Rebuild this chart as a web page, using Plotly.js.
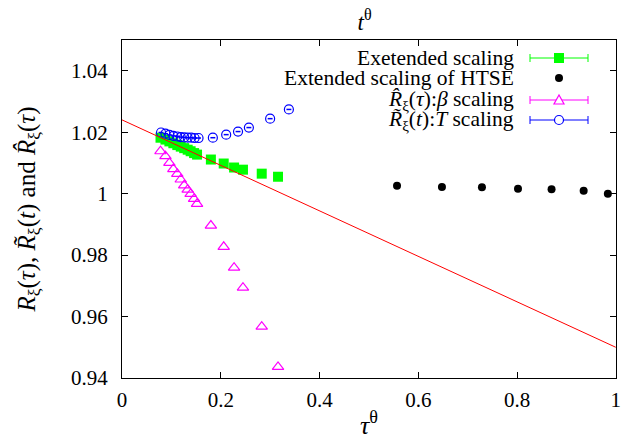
<!DOCTYPE html>
<html>
<head>
<meta charset="utf-8">
<script src="https://cdn.plot.ly/plotly-3.0.1.min.js"></script>
<style>html,body{margin:0;padding:0;background:#fff;}#chart{width:621px;height:443px;}</style>
</head>
<body>
<div id="chart"></div>
<script>
// Exetended scaling (green squares)
const greenX = [0.078,0.088,0.096,0.104,0.112,0.119,0.126,0.133,0.139,0.146,0.152,0.180,0.206,0.227,0.245,0.283,0.316];
const greenY = [1.0182,1.0176,1.0170,1.0164,1.0158,1.0153,1.0148,1.0143,1.0138,1.0132,1.0127,1.0111,1.0098,1.0085,1.0078,1.0065,1.0055];
// Extended scaling of HTSE (black dots)
const htseX = [0.557,0.648,0.729,0.802,0.870,0.935,0.984];
const htseY = [1.0026,1.0022,1.0021,1.0016,1.0014,1.0009,1.0000];
// R-hat beta scaling (magenta triangles)
const betaX = [0.078,0.088,0.096,0.104,0.112,0.119,0.126,0.133,0.139,0.146,0.152,0.180,0.206,0.227,0.245,0.283,0.316];
const betaY = [1.0138,1.0122,1.0100,1.0080,1.0064,1.0046,1.0027,1.0013,0.9999,0.9983,0.9967,0.9896,0.9827,0.9759,0.9694,0.9567,0.9436];
// R-tilde T scaling (blue circles)
const tempX = [0.079,0.088,0.096,0.104,0.112,0.119,0.126,0.133,0.140,0.147,0.155,0.184,0.211,0.235,0.257,0.300,0.338];
const tempY = [1.0199,1.0195,1.0191,1.0188,1.0186,1.0184,1.0183,1.0182,1.0182,1.0181,1.0181,1.0182,1.0192,1.0202,1.0215,1.0244,1.0274];
// linear fit (red)
const fitX = [0, 1];
const fitY = [1.024, 0.950];

const xTicks = [0, 0.2, 0.4, 0.6, 0.8, 1];
const xTickText = ['0', '0.2', '0.4', '0.6', '0.8', '1'];
const yTicks = [0.94, 0.96, 0.98, 1.00, 1.02, 1.04];
const yTickText = ['0.94', '0.96', '0.98', '1', '1.02', '1.04'];

const legendNames = [
  'Exetended scaling',
  'Extended scaling of HTSE',
  '<i>R̂</i><sub>ξ</sub>(<i>τ</i>):<i>β</i> scaling',
  '<i>R̃</i><sub>ξ</sub>(<i>t</i>):<i>T</i> scaling'
];

const GREEN = '#00ff00', MAG = '#ff00ff', BLUE = '#0000ff', RED = '#ff0000';
const FONT = "'Liberation Serif', 'Times New Roman', serif";

const traces = [
  {x: greenX, y: greenY, mode: 'markers', type: 'scatter', name: legendNames[0],
   marker: {symbol: 'square', size: 10, color: GREEN}},
  {x: htseX, y: htseY, mode: 'markers', type: 'scatter', name: legendNames[1],
   marker: {symbol: 'circle', size: 8, color: '#000'}},
  {x: betaX, y: betaY, mode: 'markers', type: 'scatter', name: legendNames[2],
   marker: {symbol: 'triangle-up-open', size: 10, color: MAG, line: {width: 1.2}}},
  {x: tempX, y: tempY, mode: 'markers', type: 'scatter', name: legendNames[3],
   marker: {symbol: 'circle-open', size: 9, color: BLUE, line: {width: 1.2}},
   error_x: {type: 'constant', value: 0.005, width: 0, thickness: 1.5, color: BLUE}},
  {x: fitX, y: fitY, mode: 'lines', type: 'scatter', name: 'fit',
   line: {color: RED, width: 1}}
];

// custom gnuplot-style legend (text right, sample left->right)
const rowsPx = [58, 78, 100, 120];
const plotTop = 40, plotBottom = 378, plotLeft = 122, plotRight = 616;
const pyP = v => (plotBottom - v) / (plotBottom - plotTop);
const pxP = v => (v - plotLeft) / (plotRight - plotLeft);
const annotations = [];
const shapes = [];
const colors = [GREEN, '#000', MAG, BLUE];
rowsPx.forEach((r, i) => {
  annotations.push({xref: 'paper', yref: 'paper', x: pxP(516), y: pyP(r), xanchor: 'right', yanchor: 'middle',
    text: legendNames[i], showarrow: false, font: {family: FONT, size: 21.5, color: '#000'}});
  const yc = pyP(r);
  if (i !== 1) {
    shapes.push({type: 'line', xref: 'paper', yref: 'paper', x0: pxP(530), x1: pxP(588), y0: yc, y1: yc, line: {color: colors[i], width: 1}});
    shapes.push({type: 'line', xref: 'paper', yref: 'paper', ysizemode: 'pixel', yanchor: yc, x0: pxP(530), x1: pxP(530), y0: -4, y1: 4, line: {color: colors[i], width: 1}});
    shapes.push({type: 'line', xref: 'paper', yref: 'paper', ysizemode: 'pixel', yanchor: yc, x0: pxP(588), x1: pxP(588), y0: -4, y1: 4, line: {color: colors[i], width: 1}});
  }
  const xc = pxP(559);
  const common = {xref: 'paper', yref: 'paper', xsizemode: 'pixel', ysizemode: 'pixel', xanchor: xc, yanchor: yc};
  if (i === 0) shapes.push(Object.assign({type: 'rect', x0: -5, x1: 5, y0: -5, y1: 5, fillcolor: GREEN, line: {width: 0}}, common));
  if (i === 1) shapes.push(Object.assign({type: 'circle', x0: -4, x1: 4, y0: -4, y1: 4, fillcolor: '#000', line: {width: 0}}, common));
  if (i === 2) shapes.push(Object.assign({type: 'path', path: 'M -5,-4 L 5,-4 L 0,5 Z', fillcolor: '#fff', line: {color: MAG, width: 1.2}}, common));
  if (i === 3) shapes.push(Object.assign({type: 'circle', x0: -4.5, x1: 4.5, y0: -4.5, y1: 4.5, fillcolor: '#fff', line: {color: BLUE, width: 1.2}}, common));
});

const layout = {
  width: 621, height: 443,
  margin: {l: plotLeft, r: 621 - plotRight, t: plotTop, b: 443 - plotBottom, pad: 0},
  paper_bgcolor: '#fff', plot_bgcolor: '#fff',
  showlegend: false,
  font: {family: FONT, color: '#000', size: 21},
  title: {text: '<i>t</i><sup>θ</sup>', x: 0.491, xref: 'paper', xanchor: 'center', y: 1 - 22 / 443, yref: 'container', yanchor: 'middle',
          font: {family: FONT, size: 23, color: '#000'}},
  xaxis: {range: [0, 1.0005], tickvals: xTicks, ticktext: xTickText, ticks: 'inside', ticklen: 6, tickcolor: '#000',
          showline: true, linecolor: '#000', linewidth: 1, mirror: 'ticks', showgrid: false, zeroline: false,
          tickfont: {family: FONT, size: 21, color: '#000'}, ticklabelstandoff: 3, automargin: false,
          title: {text: '<i>τ</i><sup>θ</sup>', font: {family: FONT, size: 26, color: '#000'}, standoff: 4}},
  yaxis: {range: [0.94, 1.05], tickvals: yTicks, ticktext: yTickText, ticks: 'inside', ticklen: 6, tickcolor: '#000',
          showline: true, linecolor: '#000', linewidth: 1, mirror: 'ticks', showgrid: false, zeroline: false,
          tickfont: {family: FONT, size: 21, color: '#000'}, ticklabelstandoff: 9, automargin: false,
          title: {text: '<i>R</i><sub>ξ</sub>(<i>τ</i>), <i>R̃</i><sub>ξ</sub>(<i>t</i>) and <i>R̂</i><sub>ξ</sub>(<i>τ</i>)', font: {family: FONT, size: 25, color: '#000'}, standoff: 28}},
  annotations: annotations,
  shapes: shapes
};

Plotly.newPlot('chart', traces, layout, {displayModeBar: false, staticPlot: true});
</script>
</body>
</html>
